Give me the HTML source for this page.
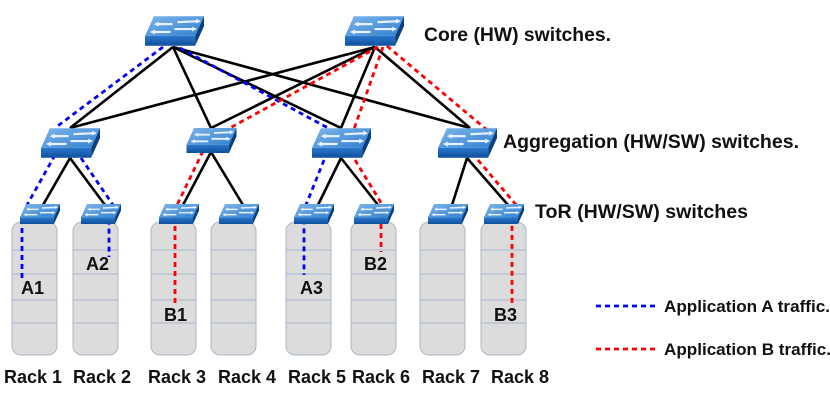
<!DOCTYPE html>
<html><head><meta charset="utf-8"><style>
html,body{margin:0;padding:0;background:#fff}
svg{display:block}
text{font-family:"Liberation Sans",sans-serif;font-weight:bold;fill:#111}
</style></head><body>
<svg width="830" height="401" viewBox="0 0 830 401" xmlns="http://www.w3.org/2000/svg">
<defs>
<linearGradient id="gt" x1="0" y1="0" x2="1" y2="1"><stop offset="0" stop-color="#7fb6ea"/><stop offset="1" stop-color="#2f7fd0"/></linearGradient>
<linearGradient id="gf" x1="0" y1="0" x2="0" y2="1"><stop offset="0" stop-color="#2a78cc"/><stop offset="1" stop-color="#0f4f9e"/></linearGradient>
<symbol id="sw" viewBox="0 0 60 30">
<polygon points="9,0 60,0 51,20 0,20" fill="url(#gt)"/>
<rect x="0" y="20" width="51" height="10" fill="url(#gf)"/>
<polygon points="51,20 60,0 60,10 51,30" fill="#0c3f80"/>
<g stroke="#e8f2ff" stroke-width="2.2" fill="none">
<line x1="12" y1="8" x2="28" y2="8"/><line x1="33" y1="6" x2="55" y2="5"/>
<line x1="8" y1="16" x2="26" y2="16"/><line x1="30" y1="13" x2="50" y2="13"/>
</g>
<g fill="#e8f2ff"><polygon points="9,8 14,5.5 14,10.5"/><polygon points="57,5 52,2.5 52,7.5"/><polygon points="5,16 10,13.5 10,18.5"/><polygon points="53,13 48,10.5 48,15.5"/></g>
</symbol>
</defs>

<g fill="#dcdcdc" stroke="#a9b6c8" stroke-width="1">
<rect x="12" y="222" width="45" height="133" rx="9"/>
<rect x="73" y="222" width="45" height="133" rx="9"/>
<rect x="151" y="222" width="45" height="133" rx="9"/>
<rect x="211" y="222" width="45" height="133" rx="9"/>
<rect x="286" y="222" width="45" height="133" rx="9"/>
<rect x="351" y="222" width="45" height="133" rx="9"/>
<rect x="420" y="222" width="45" height="133" rx="9"/>
<rect x="481" y="222" width="45" height="133" rx="9"/>
</g>
<g stroke="#a9b6c8" stroke-width="1">
<path d="M12 250h45M12 274h45M12 300h45M12 323h45"/>
<path d="M73 250h45M73 274h45M73 300h45M73 323h45"/>
<path d="M151 250h45M151 274h45M151 300h45M151 323h45"/>
<path d="M211 250h45M211 274h45M211 300h45M211 323h45"/>
<path d="M286 250h45M286 274h45M286 300h45M286 323h45"/>
<path d="M351 250h45M351 274h45M351 300h45M351 323h45"/>
<path d="M420 250h45M420 274h45M420 300h45M420 323h45"/>
<path d="M481 250h45M481 274h45M481 300h45M481 323h45"/>
</g>

<g stroke="#000" stroke-width="2.6">
<line x1="173" y1="47" x2="70" y2="128"/><line x1="173" y1="47" x2="211" y2="128"/>
<line x1="173" y1="47" x2="341" y2="128"/><line x1="173" y1="47" x2="470" y2="128"/>
<line x1="375" y1="47" x2="70" y2="128"/><line x1="375" y1="47" x2="211" y2="128"/>
<line x1="375" y1="47" x2="341" y2="128"/><line x1="375" y1="47" x2="470" y2="128"/>
<line x1="70" y1="158" x2="43" y2="205"/><line x1="70" y1="158" x2="105" y2="205"/>
<line x1="211" y1="152" x2="183" y2="205"/><line x1="211" y1="152" x2="243" y2="205"/>
<line x1="341" y1="158" x2="318" y2="205"/><line x1="341" y1="158" x2="378" y2="205"/>
<line x1="467" y1="158" x2="452" y2="205"/><line x1="467" y1="158" x2="508" y2="205"/>
</g>

<g stroke="#0000ff" stroke-width="2.8" stroke-dasharray="5,4" fill="none">
<line x1="163" y1="47" x2="55" y2="128"/>
<line x1="180" y1="48" x2="328" y2="128"/>
<polyline points="55,155 27,205 22,222 22,280"/>
<polyline points="81,158 113,205 109,222 109,257"/>
<polyline points="324,160 306,205 304,222 304,275"/>
<line x1="596" y1="306" x2="656" y2="306"/>
</g>
<g stroke="#ff0000" stroke-width="2.8" stroke-dasharray="5,4" fill="none">
<line x1="378" y1="47" x2="228" y2="129"/>
<line x1="383" y1="47" x2="354" y2="129"/>
<line x1="387" y1="46" x2="487" y2="130"/>
<polyline points="203,151 177,205 175,222 175,305"/>
<polyline points="355,160 383,206 381,222 381,252"/>
<polyline points="478,160 517,206 512,222 512,305"/>
<line x1="596" y1="349" x2="656" y2="349"/>
</g>

<use href="#sw" x="145" y="16" width="59" height="30"/>
<use href="#sw" x="345" y="16" width="59" height="30"/>
<use href="#sw" x="41" y="128" width="59" height="30"/>
<use href="#sw" x="183" y="128" width="57" height="25"/>
<use href="#sw" x="312" y="128" width="59" height="30"/>
<use href="#sw" x="438" y="128" width="59" height="30"/>
<use href="#sw" x="17" y="204" width="46" height="20"/>
<use href="#sw" x="78" y="204" width="46" height="20"/>
<use href="#sw" x="156" y="204" width="46" height="20"/>
<use href="#sw" x="216" y="204" width="46" height="20"/>
<use href="#sw" x="291" y="204" width="46" height="20"/>
<use href="#sw" x="351" y="204" width="46" height="20"/>
<use href="#sw" x="425" y="204" width="46" height="20"/>
<use href="#sw" x="481" y="204" width="46" height="20"/>

<text x="424" y="41" font-size="19" textLength="187" lengthAdjust="spacingAndGlyphs">Core (HW) switches.</text>
<text x="503" y="148" font-size="19" textLength="296" lengthAdjust="spacingAndGlyphs">Aggregation (HW/SW) switches.</text>
<text x="535" y="218" font-size="19" textLength="213" lengthAdjust="spacingAndGlyphs">ToR (HW/SW) switches</text>
<text x="664" y="312" font-size="16.5" textLength="166" lengthAdjust="spacingAndGlyphs">Application A traffic.</text>
<text x="664" y="355" font-size="16.5" textLength="167" lengthAdjust="spacingAndGlyphs">Application B traffic.</text>
<g font-size="18">
<text x="21" y="294">A1</text><text x="86" y="270">A2</text><text x="164" y="321">B1</text>
<text x="300" y="294">A3</text><text x="364" y="270">B2</text><text x="494" y="321">B3</text>
</g>
<g font-size="18">
<text x="4" y="383">Rack 1</text><text x="73" y="383">Rack 2</text><text x="148" y="383">Rack 3</text>
<text x="218" y="383">Rack 4</text><text x="288" y="383">Rack 5</text><text x="352" y="383">Rack 6</text>
<text x="422" y="383">Rack 7</text><text x="491" y="383">Rack 8</text>
</g>
</svg>
</body></html>
